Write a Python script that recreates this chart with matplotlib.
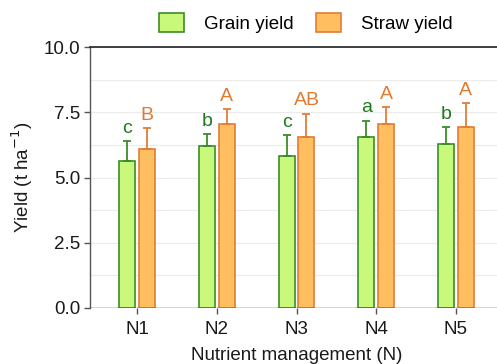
import matplotlib
matplotlib.use("Agg")
import matplotlib.pyplot as plt
from matplotlib.patches import Patch

plt.rcParams['font.family'] = ['Liberation Sans', 'DejaVu Sans']

categories = ["N1", "N2", "N3", "N4", "N5"]
grain = [5.65, 6.22, 5.83, 6.55, 6.30]
grain_err = [0.76, 0.45, 0.78, 0.63, 0.62]
straw = [6.09, 7.06, 6.55, 7.05, 6.94]
straw_err = [0.81, 0.55, 0.90, 0.65, 0.92]
grain_letters = ["c", "b", "c", "a", "b"]
straw_letters = ["B", "A", "AB", "A", "A"]

g_fill, g_edge, g_txt = "#c9f97a", "#3b8c2a", "#1f7a1f"
s_fill, s_edge, s_txt = "#ffbf60", "#e27d35", "#e07a30"

fig = plt.figure(figsize=(4.97, 3.64), dpi=100)
W, H = 497, 364
ax = fig.add_axes([90 / W, (H - 308) / H, (503 - 90) / W, (308 - 47) / H])

x = list(range(len(categories)))
bw = 0.2
off = 0.125
xg = [i - off for i in x]
xs = [i + off for i in x]

ax.bar(xg, grain, width=bw, color=g_fill, edgecolor=g_edge, linewidth=1.2, zorder=3)
ax.bar(xs, straw, width=bw, color=s_fill, edgecolor=s_edge, linewidth=1.2, zorder=3)
ax.errorbar(xg, grain, yerr=[[0] * 5, grain_err], fmt="none", ecolor=g_edge,
            elinewidth=1.3, capsize=3, capthick=1.3, zorder=4)
ax.errorbar(xs, straw, yerr=[[0] * 5, straw_err], fmt="none", ecolor=s_edge,
            elinewidth=1.3, capsize=3, capthick=1.3, zorder=4)

for i in x:
    ax.annotate(grain_letters[i], (xg[i], grain[i] + grain_err[i]), xytext=(0, 3),
                textcoords="offset points", ha="center", va="bottom",
                color=g_txt, fontsize=14)
    ax.annotate(straw_letters[i], (xs[i], straw[i] + straw_err[i]), xytext=(0, 3),
                textcoords="offset points", ha="center", va="bottom",
                color=s_txt, fontsize=14)

ax.set_xlim(-0.59, 4.59)
ax.set_ylim(0, 10)
ax.set_yticks([0, 2.5, 5.0, 7.5, 10.0])
ax.set_yticklabels(["0.0", "2.5", "5.0", "7.5", "10.0"])
ax.set_yticks([1.25, 3.75, 6.25, 8.75], minor=True)
ax.tick_params(axis="y", which="minor", length=0)
ax.set_xticks(x)
ax.set_xticklabels(categories)
ax.grid(axis="y", which="both", color="#ebebeb", linewidth=0.8, zorder=0)
ax.grid(axis="x", visible=False)
ax.set_axisbelow(True)

for sp in ["right", "bottom"]:
    ax.spines[sp].set_visible(False)
ax.spines["left"].set_color("#555555")
ax.spines["left"].set_linewidth(1.0)
ax.spines["top"].set_color("#222222")
ax.spines["top"].set_linewidth(1.2)
ax.axhline(0, color="#333333", linewidth=1.0, zorder=5)

ax.tick_params(axis="both", which="major", labelsize=13.5, length=4, color="#555555",
               labelcolor="#1a1a1a", width=1.0, pad=3)
ax.tick_params(axis="x", which="major", pad=5)
ax.set_ylabel("Yield (t ha$^{-1}$)", fontsize=13.5, color="#1a1a1a", labelpad=6)
ax.set_xlabel("Nutrient management (N)", fontsize=13.5, color="#1a1a1a", labelpad=7)

handles = [Patch(facecolor=g_fill, edgecolor=g_edge, linewidth=1.2, label="Grain yield"),
           Patch(facecolor=s_fill, edgecolor=s_edge, linewidth=1.2, label="Straw yield")]
fig.legend(handles=handles, loc="center", bbox_to_anchor=(306 / W, 1 - 23 / H), ncol=2,
           frameon=False, fontsize=13.5, handlelength=1.3, handleheight=1.2,
           columnspacing=1.2, handletextpad=1.1)

fig.savefig("out.png", dpi=100)
